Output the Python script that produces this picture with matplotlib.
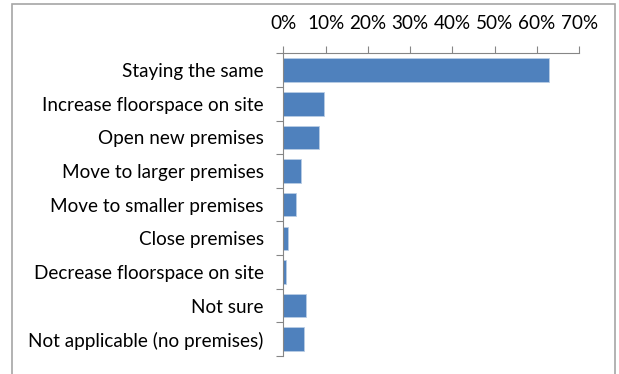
import matplotlib.pyplot as plt
from matplotlib.patches import Rectangle
from matplotlib.ticker import FuncFormatter, MultipleLocator
import numpy as np

categories = ['Staying the same', 'Increase floorspace on site', 'Open new premises',
              'Move to larger premises', 'Move to smaller premises', 'Close premises',
              'Decrease floorspace on site', 'Not sure', 'Not applicable (no premises)']
shares = [62.9, 9.6, 8.4, 4.2, 3.0, 1.2, 0.6, 5.4, 4.8]

plt.rcParams['font.family'] = ['Lato', 'DejaVu Sans']
grey = '#868686'

fig = plt.figure(figsize=(6.19, 3.74), dpi=100)
ax = fig.add_axes([0.4577, 0.048, 0.4782, 0.8095])

y = np.arange(len(categories))
ax.barh(y, shares, height=0.7, color='#4F81BD', edgecolor='#B9CDE5', linewidth=0.6)

ax.set_xlim(0, 70)
ax.set_ylim(len(categories) - 0.5, -0.5)
ax.xaxis.set_major_locator(MultipleLocator(10))
ax.xaxis.set_major_formatter(FuncFormatter(lambda v, p: f'{v:.0f}%'))
ax.xaxis.tick_top()

ax.set_yticks(y)
ax.set_yticklabels(categories)
ax.set_yticks(np.arange(len(categories) + 1) - 0.5, minor=True)
ax.tick_params(axis='y', which='major', length=0, pad=14, labelsize=13.6)
ax.tick_params(axis='y', which='minor', length=5, color=grey, width=0.8)
ax.tick_params(axis='x', length=5, color=grey, width=0.8, pad=10, labelsize=13.6)

for side in ['right', 'bottom']:
    ax.spines[side].set_visible(False)
for side in ['left', 'top']:
    ax.spines[side].set_color(grey)
    ax.spines[side].set_linewidth(0.8)

# chart area outline
fig.patches.append(Rectangle((0.0194, -0.05), 0.9741, 1.039, transform=fig.transFigure,
                             fill=False, edgecolor='#A6A6A6', linewidth=1.2))

fig.savefig('out.png', dpi=100)
